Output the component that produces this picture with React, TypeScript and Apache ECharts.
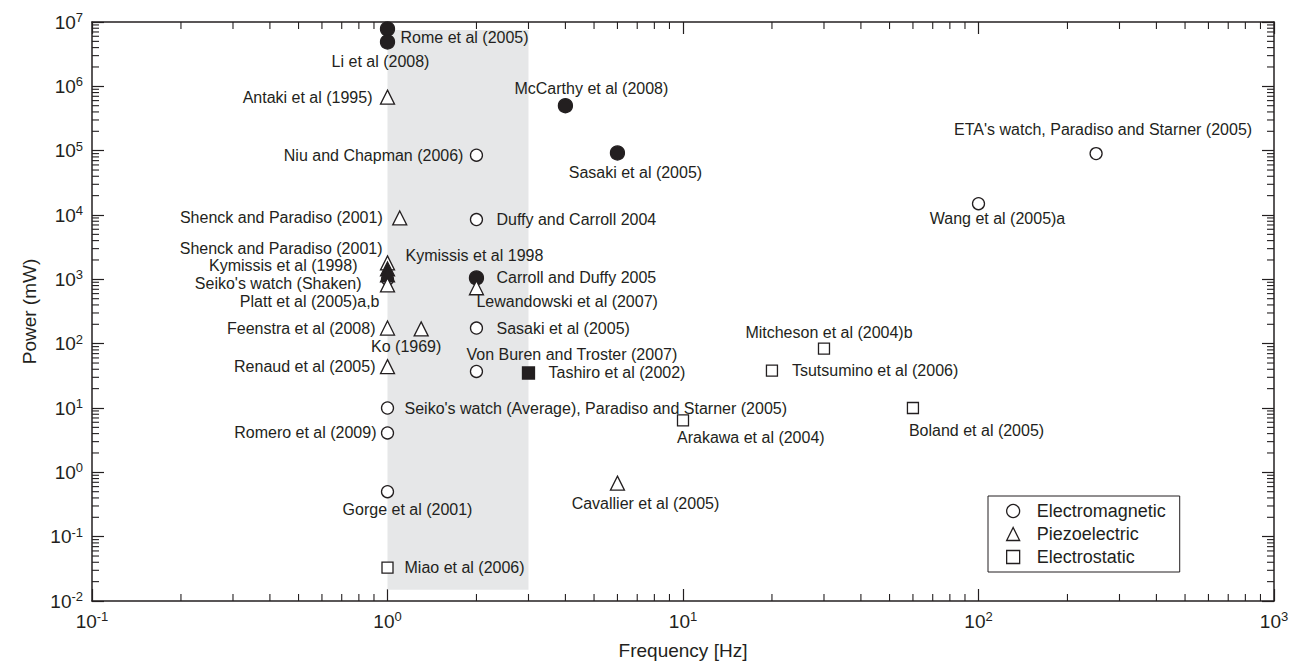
import { useEffect, useRef } from "react";
import * as echarts from "echarts";

const INK = "#231f20";
const FONT = "'Liberation Sans', Arial, sans-serif";

// ---- data ----
const names = [
  "Rome et al (2005)",
  "Li et al (2008)",
  "Antaki et al (1995)",
  "McCarthy et al (2008)",
  "Sasaki et al (2005)",
  "Niu and Chapman (2006)",
  "ETA's watch, Paradiso and Starner (2005)",
  "Wang et al (2005)a",
  "Shenck and Paradiso (2001)",
  "Duffy and Carroll 2004",
  "Shenck and Paradiso (2001)",
  "Kymissis et al (1998)",
  "Kymissis et al 1998",
  "Seiko's watch (Shaken)",
  "Platt et al (2005)a,b",
  "Carroll and Duffy 2005",
  "Lewandowski et al (2007)",
  "Feenstra et al (2008)",
  "Ko (1969)",
  "Sasaki et al (2005)",
  "Von Buren and Troster (2007)",
  "Renaud et al (2005)",
  "Tashiro et al (2002)",
  "Seiko's watch (Average), Paradiso and Starner (2005)",
  "Romero et al (2009)",
  "Gorge et al (2001)",
  "Cavallier et al (2005)",
  "Miao et al (2006)",
  "Mitcheson et al (2004)b",
  "Tsutsumino et al (2006)",
  "Boland et al (2005)",
  "Arakawa et al (2004)",
];
const freqs = [1, 1, 1, 4, 6, 2, 250, 100, 1.1, 2, 1, 1, 1, 1, 1, 2, 2, 1, 1.3, 2, 2, 1, 3, 1, 1, 1, 6, 1, 30, 20, 60, 10];
const powers = [
  7.8e6, 4.9e6, 6.8e5, 5e5, 9.2e4, 8.5e4, 9e4, 1.5e4, 9e3, 8.5e3, 1.8e3, 1.45e3, 1.17e3, 1e3, 8.2e2, 1.05e3,
  7.4e2, 175, 170, 175, 37, 44, 35, 10, 4.1, 0.5, 0.68, 0.033, 84, 38, 10, 6.4,
];
// 0 = electromagnetic, 1 = piezoelectric, 2 = electrostatic
const kinds = [0, 0, 1, 0, 0, 0, 0, 0, 1, 0, 1, 1, 1, 0, 1, 0, 1, 1, 1, 0, 0, 1, 2, 0, 0, 0, 1, 2, 2, 2, 2, 2];
const filled = [
  true, true, false, true, true, false, false, false, false, false, false, true, true, false, false, true,
  false, false, false, false, false, false, true, false, false, false, false, false, false, false, false, false,
];
const legendNames = ["Electromagnetic", "Piezoelectric", "Electrostatic"];

const bandFreq = [1, 3];
const bandPower = [0.015, 7.5e6];

const minorMultipliers = [2, 3, 4, 5, 6, 7, 8, 9];
const xDecades = [0.1, 1, 10, 100];
const yDecades = [0.01, 0.1, 1, 10, 100, 1000, 1e4, 1e5, 1e6];

// ---- label layout (style only) ----
const labelLayout: [number, number, string][] = [
  [13, 9, "left"],
  [-7, 20, "center"],
  [-15, 0, "right"],
  [26, -17, "center"],
  [18, 20, "center"],
  [-13, 0, "right"],
  [7, -24, "center"],
  [19, 15, "center"],
  [-17, 0, "right"],
  [20, 0, "left"],
  [-5, -14, "right"],
  [-30, -3, "right"],
  [18, -19, "left"],
  [-26, 4, "right"],
  [-8, 17, "right"],
  [20, 0, "left"],
  [0, 14, "left"],
  [-12, 0, "right"],
  [-15, 18, "center"],
  [20, 0, "left"],
  [-10, -17, "left"],
  [-12, 0, "right"],
  [20, 0, "left"],
  [17, 0, "left"],
  [-11, 0, "right"],
  [20, 18, "center"],
  [28, 20, "center"],
  [17, 0, "left"],
  [5, -16, "center"],
  [20, 0, "left"],
  [-4, 22, "left"],
  [-6, 17, "left"],
];

const symbols = ["circle", "triangle", "rect"];
const openSizes = [12, 14, 11];
const filledSizes = [14, 14, 12];

export default function App() {
  const ref = useRef<HTMLDivElement>(null);
  useEffect(() => {
    if (!ref.current) return;
    const chart = echarts.init(ref.current, null, { renderer: "svg" });

    const expFormatter = (v: number) => {
      const e = Math.round(Math.log10(v));
      return `{b|10}{s|${e}}`;
    };
    const rich = {
      b: { fontSize: 19, color: INK, fontFamily: FONT, lineHeight: 22 },
      s: { fontSize: 13, color: INK, fontFamily: FONT, lineHeight: 13, verticalAlign: "top" },
    };
    const axisBase = {
      type: "log",
      logBase: 10,
      axisLine: { show: true, onZero: false, lineStyle: { color: INK, width: 1.5 } },
      axisTick: { show: true, inside: true, length: 12, lineStyle: { color: INK, width: 1.2 } },
      splitLine: { show: false },
      minorTick: { show: false },
    };

    const scatterSeries = legendNames.map((ln, k) => ({
      type: "scatter",
      name: ln,
      z: 5,
      symbol: symbols[k],
      symbolSize: openSizes[k],
      itemStyle: { color: "#ffffff", borderColor: INK, borderWidth: 1.3, opacity: 1 },
      emphasis: { disabled: true },
      data: names
        .map((n, i) => i)
        .filter((i) => kinds[i] === k)
        .map((i) => ({
          value: [freqs[i], powers[i]],
          name: names[i],
          symbolSize: filled[i] ? filledSizes[k] : openSizes[k],
          itemStyle: filled[i] ? { color: INK, borderColor: INK } : undefined,
          label: {
            show: true,
            position: "inside",
            formatter: names[i],
            align: labelLayout[i][2],
            verticalAlign: "middle",
            offset: [labelLayout[i][0], labelLayout[i][1]],
            color: INK,
            fontSize: 16,
            lineHeight: 16,
            fontFamily: FONT,
            textBorderWidth: 0,
          },
        })),
    }));

    const minorData: number[][] = [];
    xDecades.forEach((d) => minorMultipliers.forEach((m) => minorData.push([d * m, 1, 0])));
    yDecades.forEach((d) => minorMultipliers.forEach((m) => minorData.push([1, d * m, 1])));

    chart.setOption({
      animation: false,
      textStyle: { fontFamily: FONT, color: INK },
      grid: { left: 92, right: 22, top: 22, bottom: 67 },
      xAxis: [
        {
          ...axisBase,
          min: 0.1,
          max: 1000,
          position: "bottom",
          axisLabel: { formatter: expFormatter, rich, margin: 9 },
          name: "Frequency [Hz]",
          nameLocation: "middle",
          nameGap: 40,
          nameTextStyle: { fontSize: 19, color: INK, fontFamily: FONT },
        },
        { ...axisBase, min: 0.1, max: 1000, position: "top", axisLabel: { show: false } },
      ],
      yAxis: [
        {
          ...axisBase,
          min: 0.01,
          max: 1e7,
          position: "left",
          axisLabel: { formatter: expFormatter, rich, margin: 9 },
          name: "Power (mW)",
          nameLocation: "middle",
          nameGap: 52,
          nameTextStyle: { fontSize: 19, color: INK, fontFamily: FONT },
        },
        { ...axisBase, min: 0.01, max: 1e7, position: "right", axisLabel: { show: false } },
      ],
      legend: {
        orient: "vertical",
        left: 988,
        top: 496,
        selectedMode: false,
        data: legendNames.map((n, k) => ({ name: n, icon: symbols[k] })),
        itemWidth: 13,
        itemHeight: 13,
        itemGap: 5,
        padding: [6, 14, 6, 18],
        borderColor: INK,
        borderWidth: 1,
        borderRadius: 0,
        backgroundColor: "#ffffff",
        itemStyle: { color: "#ffffff", borderColor: INK, borderWidth: 1.3 },
        textStyle: { fontSize: 18, color: INK, fontFamily: FONT, padding: [0, 0, 0, 12], lineHeight: 14 },
      },
      series: [
        {
          type: "scatter",
          name: "band",
          z: 1,
          data: [],
          silent: true,
          markArea: {
            silent: true,
            itemStyle: { color: "#e6e7e8" },
            data: [[{ coord: [bandFreq[0], bandPower[0]] }, { coord: [bandFreq[1], bandPower[1]] }]],
          },
        },
        {
          type: "custom",
          name: "minorTicks",
          z: 6,
          silent: true,
          data: minorData,
          renderItem: (params: any, api: any) => {
            const cs = params.coordSys;
            const kind = api.value(2);
            const p = api.coord([api.value(0), api.value(1)]);
            const st = { stroke: INK, lineWidth: 1.1 };
            if (kind === 0) {
              const x = p[0];
              return {
                type: "group",
                children: [
                  { type: "line", shape: { x1: x, y1: cs.y + cs.height, x2: x, y2: cs.y + cs.height - 7 }, style: st },
                  { type: "line", shape: { x1: x, y1: cs.y, x2: x, y2: cs.y + 7 }, style: st },
                ],
              };
            }
            const y = p[1];
            return {
              type: "group",
              children: [
                { type: "line", shape: { x1: cs.x, y1: y, x2: cs.x + 7, y2: y }, style: st },
                { type: "line", shape: { x1: cs.x + cs.width, y1: y, x2: cs.x + cs.width - 7, y2: y }, style: st },
              ],
            };
          },
        },
        ...scatterSeries,
      ],
    });
    return () => chart.dispose();
  }, []);
  return (
    <div
      ref={ref}
      style={{ position: "fixed", left: 0, top: 0, width: 1296, height: 668, background: "#ffffff" }}
    />
  );
}
